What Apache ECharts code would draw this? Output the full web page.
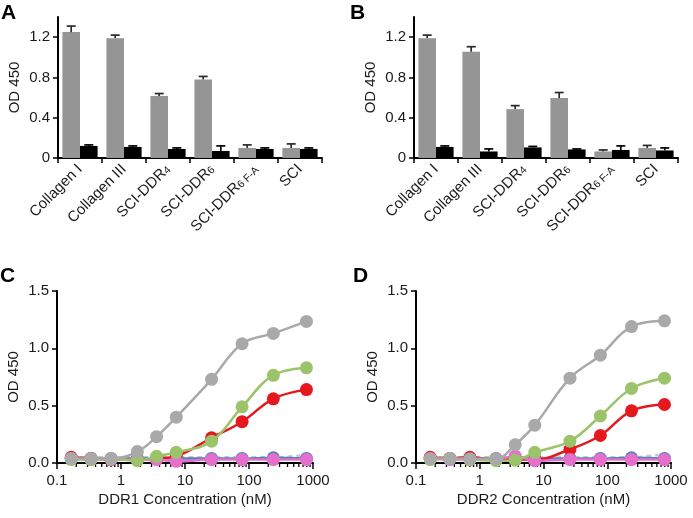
<!DOCTYPE html>
<html><head><meta charset="utf-8">
<script src="https://cdn.jsdelivr.net/npm/echarts@6/dist/echarts.min.js"></script>
<style>html,body{margin:0;padding:0;background:#fff}#c{width:693px;height:518px}</style>
</head><body><div id="c"></div>
<script>
// ---- Data ----
var categories = ['Collagen I', 'Collagen III', 'SCI-DDR4', 'SCI-DDR6', 'SCI-DDR6 F-A', 'SCI'];
var barYTicks = [0, 0.4, 0.8, 1.2];
// Panel A
var grayA = [1.25, 1.19, 0.615, 0.78, 0.10, 0.10];
var grayAErr = [0.06, 0.03, 0.025, 0.03, 0.03, 0.04];
var blackA = [0.12, 0.11, 0.09, 0.07, 0.09, 0.09];
var blackAErr = [0.01, 0.01, 0.01, 0.05, 0.01, 0.01];
// Panel B
var grayB = [1.19, 1.055, 0.485, 0.595, 0.065, 0.10];
var grayBErr = [0.03, 0.05, 0.035, 0.055, 0.015, 0.025];
var blackB = [0.11, 0.065, 0.105, 0.085, 0.08, 0.075];
var blackBErr = [0.01, 0.025, 0.01, 0.005, 0.04, 0.025];
// Panels C, D
var conc = [0.167, 0.34, 0.7, 1.8, 3.6, 7.3, 26, 78, 240, 790];
var logMinor = [0.2,0.3,0.4,0.5,0.6,0.7,0.8,0.9,2,3,4,5,6,7,8,9,20,30,40,50,60,70,80,90,200,300,400,500,600,700,800,900];
var grayC  = [0.04, 0.04, 0.04, 0.10, 0.23, 0.40, 0.73, 1.04, 1.13, 1.235];
var greenC = [0.03, 0.03, 0.035, 0.02, 0.058, 0.093, 0.19, 0.49, 0.765, 0.83];
var redC   = [0.05, 0.04, 0.03, 0.03, 0.04, 0.06, 0.22, 0.36, 0.56, 0.64];
var pinkC  = [0.04, 0.03, 0.03, 0.03, 0.03, 0.015, 0.03, 0.03, 0.03, 0.03];
var blueC  = [0.04, 0.04, 0.04, 0.04, 0.04, 0.04, 0.04, 0.04, 0.045, 0.04];
var openC  = [0.05, 0.05, 0.05, 0.05, 0.05, 0.05, 0.05, 0.05, 0.05, 0.07];
var grayD  = [0.037, 0.037, 0.037, 0.037, 0.16, 0.33, 0.74, 0.94, 1.19, 1.24];
var greenD = [0.03, 0.04, 0.03, 0.02, 0.025, 0.093, 0.19, 0.41, 0.65, 0.74];
var redD   = [0.05, 0.04, 0.05, 0.03, 0.03, 0.03, 0.12, 0.24, 0.455, 0.51];
var pinkD  = [0.04, 0.03, 0.03, 0.03, 0.06, 0.02, 0.03, 0.03, 0.03, 0.03];
var blueD  = [0.04, 0.04, 0.04, 0.04, 0.04, 0.04, 0.04, 0.04, 0.045, 0.04];
var openD  = [0.05, 0.05, 0.05, 0.05, 0.05, 0.05, 0.05, 0.05, 0.05, 0.08];

// ---- Styling ----
var FONT = 'Liberation Sans, Arial, sans-serif';
var TXT = '#1a1a1a';
var BARGRAY = '#959595';
var chart = echarts.init(document.getElementById('c'), null, {renderer: 'canvas'});

function catLabel(v) {
  if (v === 'SCI-DDR4') return 'SCI-DDR{s|4}';
  if (v === 'SCI-DDR6') return 'SCI-DDR{s|6}';
  if (v === 'SCI-DDR6 F-A') return 'SCI-DDR{s|6 F-A}';
  return v;
}
function barX(gi) {
  return {
    type: 'category', gridIndex: gi, data: categories,
    axisLine: {lineStyle: {color: '#000', width: 2}},
    axisTick: {show: true, length: 5, lineStyle: {color: '#000', width: 1.5}},
    axisLabel: {rotate: 45, margin: 9, fontSize: 15, color: TXT, fontFamily: FONT, interval: 0,
      formatter: catLabel, rich: {s: {fontSize: 10.5, fontFamily: FONT, color: TXT, verticalAlign: 'bottom'}}}
  };
}
function barY(gi) {
  return {
    type: 'value', gridIndex: gi, min: 0, max: 1.4, interval: 0.2,
    name: 'OD 450', nameLocation: 'middle', nameGap: 36,
    nameTextStyle: {fontSize: 15, color: TXT, fontFamily: FONT},
    splitLine: {show: false},
    axisLine: {show: true, lineStyle: {color: '#000', width: 2}},
    axisTick: {show: true, length: 5, customValues: barYTicks, lineStyle: {color: '#000', width: 1.5}},
    axisLabel: {margin: 8, fontSize: 15, color: TXT, fontFamily: FONT, customValues: barYTicks}
  };
}
function logX(gi, name) {
  return {
    type: 'log', logBase: 10, gridIndex: gi, min: 0.1, max: 1000,
    name: name, nameLocation: 'middle', nameGap: 29,
    nameTextStyle: {fontSize: 15, color: TXT, fontFamily: FONT},
    splitLine: {show: false},
    axisLine: {lineStyle: {color: '#000', width: 2}},
    axisTick: {show: true, length: 6, lineStyle: {color: '#000', width: 1.5}},
    axisLabel: {margin: 10, fontSize: 15, color: TXT, fontFamily: FONT,
      formatter: function (v) { return String(+(+v).toPrecision(3)); }}
  };
}
function odY(gi) {
  return {
    type: 'value', gridIndex: gi, min: 0, max: 1.5, interval: 0.5,
    name: 'OD 450', nameLocation: 'middle', nameGap: 36,
    nameTextStyle: {fontSize: 15, color: TXT, fontFamily: FONT},
    splitLine: {show: false},
    axisLine: {show: true, lineStyle: {color: '#000', width: 2}},
    axisTick: {show: true, length: 5, lineStyle: {color: '#000', width: 1.5}},
    axisLabel: {margin: 8, fontSize: 15, color: TXT, fontFamily: FONT,
      formatter: function (v) { return v.toFixed(1); }}
  };
}
function barSeries(xi, vals, color) {
  return {type: 'bar', xAxisIndex: xi, yAxisIndex: xi, data: vals, barGap: '0%', barCategoryGap: '20%',
    itemStyle: {color: color}, z: 2, silent: true};
}
function errSeries(xi, vals, errs, side, color) {
  return {
    type: 'custom', xAxisIndex: xi, yAxisIndex: xi, z: 5, silent: true,
    data: vals.map(function (v, i) { return [i, v, v + errs[i]]; }),
    renderItem: function (params, api) {
      var c = api.value(0);
      var p0 = api.coord([c, api.value(1)]);
      var p1 = api.coord([c, api.value(2)]);
      var bw = api.size([1, 0])[0];
      var x = p0[0] + side * 0.2 * bw;
      var cap = 4.5;
      var st = {stroke: color, lineWidth: 1.7};
      return {type: 'group', children: [
        {type: 'line', shape: {x1: x, y1: p0[1], x2: x, y2: p1[1]}, style: st},
        {type: 'line', shape: {x1: x - cap, y1: p1[1], x2: x + cap, y2: p1[1]}, style: st}
      ]};
    }
  };
}
function minorTicks(xi) {
  return {
    type: 'custom', xAxisIndex: xi, yAxisIndex: xi, z: 1, silent: true, clip: false,
    data: logMinor.map(function (v) { return [v, 0]; }),
    renderItem: function (params, api) {
      var p = api.coord([api.value(0), 0]);
      return {type: 'line', shape: {x1: p[0], y1: p[1], x2: p[0], y2: p[1] + 4}, style: {stroke: '#000', lineWidth: 1.3}};
    }
  };
}
function pairs(ys) { return conc.map(function (x, i) { return [x, ys[i]]; }); }
function lineSeries(xi, ys, color, opts) {
  opts = opts || {};
  return {
    type: 'line', xAxisIndex: xi, yAxisIndex: xi, data: pairs(ys), smooth: 0.4,
    symbol: opts.symbol || 'circle', symbolSize: opts.size || 13, silent: true,
    itemStyle: {color: opts.fill || color, borderColor: color, borderWidth: opts.bw || 0},
    lineStyle: {color: opts.lineColor || color, width: 2.5, type: opts.dash ? [5, 4] : 'solid'},
    z: opts.z || 3, animation: false
  };
}
function titleText(t, l, tp) {
  return {text: t, left: l, top: tp, padding: 0, textStyle: {fontSize: 21, fontWeight: 'bold', color: '#000', fontFamily: FONT}};
}

var option = {
  animation: false,
  backgroundColor: '#fff',
  title: [titleText('A', 1, 3), titleText('B', 350, 3), titleText('C', 0, 266), titleText('D', 353, 266)],
  grid: [
    {left: 58, top: 17, width: 264, height: 141},
    {left: 414, top: 17, width: 264, height: 141},
    {left: 57, top: 291, width: 256, height: 172},
    {left: 416, top: 291, width: 255, height: 172}
  ],
  xAxis: [barX(0), barX(1), logX(2, 'DDR1 Concentration (nM)'), logX(3, 'DDR2 Concentration (nM)')],
  yAxis: [barY(0), barY(1), odY(2), odY(3)],
  series: [
    barSeries(0, grayA, BARGRAY), barSeries(0, blackA, '#000'),
    errSeries(0, grayA, grayAErr, -1, '#2a2a2a'), errSeries(0, blackA, blackAErr, 1, '#000'),
    barSeries(1, grayB, BARGRAY), barSeries(1, blackB, '#000'),
    errSeries(1, grayB, grayBErr, -1, '#2a2a2a'), errSeries(1, blackB, blackBErr, 1, '#000'),

    minorTicks(2), minorTicks(3),

    lineSeries(2, openC, '#b4b4b4', {symbol: 'emptyCircle', fill: '#fff', bw: 2, size: 11, dash: true, lineColor: '#c4c8cc', z: 2}),
    lineSeries(2, blueC, '#4f81bd', {z: 2}),
    lineSeries(2, redC, '#e5191d', {z: 3}),
    lineSeries(2, pinkC, '#e56fcb', {z: 4}),
    lineSeries(2, greenC, '#9bc46a', {z: 5}),
    lineSeries(2, grayC, '#a9a9a9', {z: 6}),

    lineSeries(3, openD, '#b4b4b4', {symbol: 'emptyCircle', fill: '#fff', bw: 2, size: 11, dash: true, lineColor: '#c4c8cc', z: 2}),
    lineSeries(3, blueD, '#4f81bd', {z: 2}),
    lineSeries(3, redD, '#e5191d', {z: 3}),
    lineSeries(3, pinkD, '#e56fcb', {z: 4}),
    lineSeries(3, greenD, '#9bc46a', {z: 5}),
    lineSeries(3, grayD, '#a9a9a9', {z: 6})
  ]
};
chart.setOption(option);
</script></body></html>
